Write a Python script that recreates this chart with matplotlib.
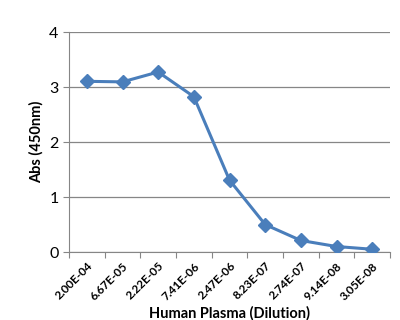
import matplotlib

matplotlib.rcParams['font.family'] = ['Lato', 'DejaVu Sans']
matplotlib.rcParams['font.size'] = 10

import matplotlib.pyplot as plt
import numpy as np

dilutions = ["2.00E-04", "6.67E-05", "2.22E-05", "7.41E-06", "2.47E-06",
             "8.23E-07", "2.74E-07", "9.14E-08", "3.05E-08"]
absorbance = [3.11, 3.10, 3.28, 2.83, 1.31, 0.50, 0.21, 0.10, 0.05]

fig = plt.figure(figsize=(4.0, 3.2), dpi=100)
ax = fig.add_axes([0.1725, 0.2125, 0.8025, 0.686])

x = np.arange(len(dilutions))
ax.plot(x, absorbance, color='#4A7EBB', linewidth=2.2,
        marker='D', markersize=7, markerfacecolor='#4A7EBB',
        markeredgecolor='#4A7EBB', zorder=3)

ax.set_xlim(-0.5, len(dilutions) - 0.5)
ax.set_ylim(0, 4)
ax.set_yticks([0, 1, 2, 3, 4])

# category ticks sit between categories, labels on the categories
ax.set_xticks(np.arange(-0.5, len(dilutions), 1.0))
ax.set_xticklabels([])
ax.set_xticks(x, minor=True)
ax.set_xticklabels(dilutions, minor=True, rotation=45, ha='right',
                   rotation_mode='anchor', fontsize=8.5, fontweight='bold')
ax.tick_params(axis='x', which='minor', length=0, pad=6)
ax.tick_params(axis='x', which='major', length=4, color='#868686')
ax.tick_params(axis='y', length=4, color='#868686', labelsize=11.5)

ax.grid(axis='y', color='#868686', linewidth=0.9)
ax.set_axisbelow(True)
for s in ['top', 'right']:
    ax.spines[s].set_visible(False)
for s in ['left', 'bottom']:
    ax.spines[s].set_color('#868686')

ax.set_ylabel("Abs (450nm)", fontweight='bold', fontsize=10.5, labelpad=4)
ax.set_xlabel("Human Plasma (Dilution)", fontweight='bold', fontsize=10.5, labelpad=3)

fig.savefig("out.png", dpi=100)
